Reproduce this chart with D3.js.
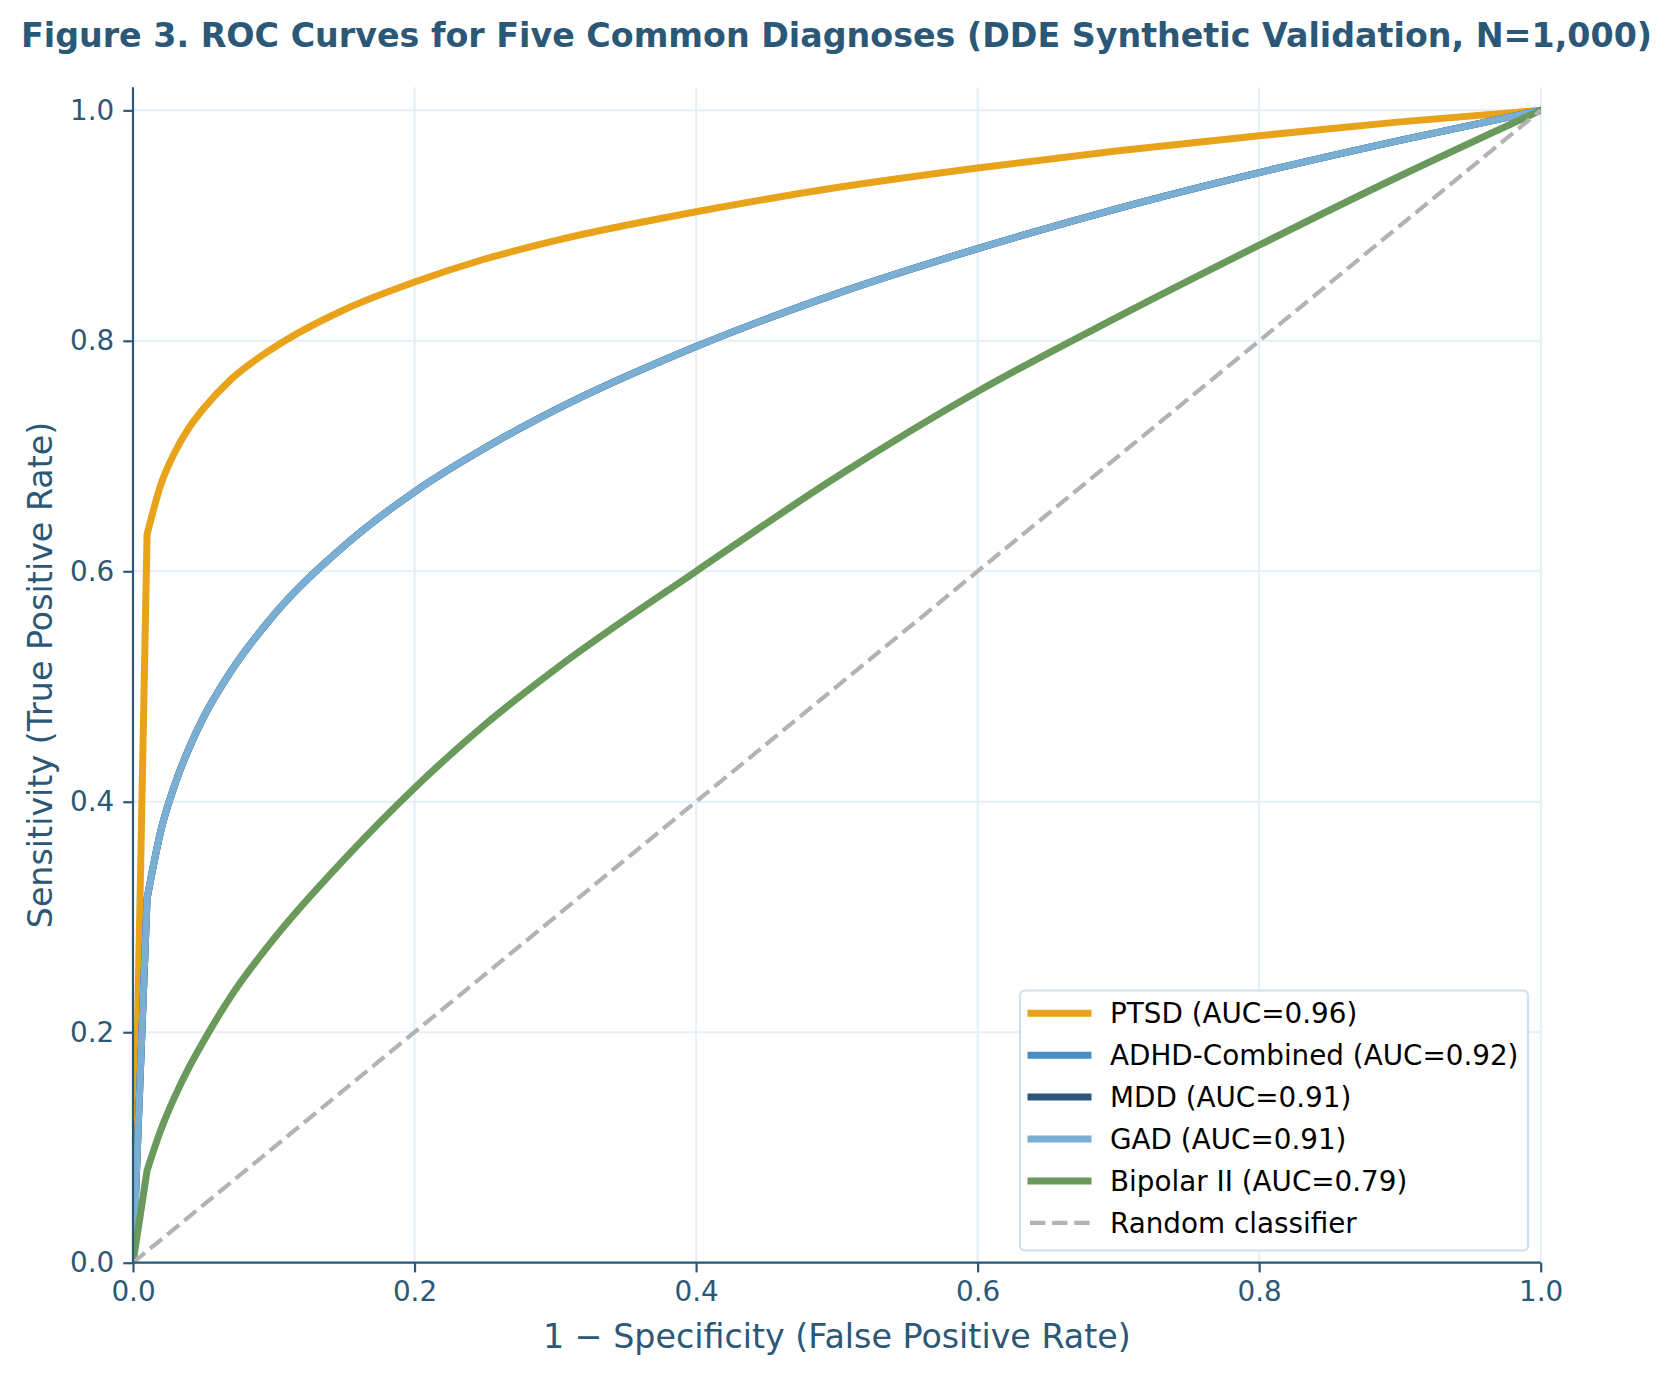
<!DOCTYPE html>
<html>
<head>
<meta charset="utf-8">
<script src="https://cdn.jsdelivr.net/npm/d3@7"></script>
<style>
  body { margin: 0; background: #fff; }
  svg { display: block; font-family: "DejaVu Sans", sans-serif; }
</style>
</head>
<body>
<div id="chart"></div>
<script>
// values
const fpr = [0, 0.01, 0.02, 0.03, 0.04, 0.05, 0.07, 0.1, 0.15, 0.2, 0.25, 0.3, 0.4, 0.5, 0.6, 0.7, 0.8, 0.9, 1.0];
const ptsd = [0, 0.632, 0.676, 0.704, 0.725, 0.741, 0.767, 0.794, 0.827, 0.851, 0.871, 0.887, 0.912, 0.933, 0.950, 0.965, 0.978, 0.990, 1.0];
const adhd = [0, 0.316, 0.376, 0.416, 0.447, 0.473, 0.514, 0.562, 0.622, 0.669, 0.707, 0.740, 0.795, 0.841, 0.880, 0.915, 0.946, 0.974, 1.0];
const mdd = [0, 0.316, 0.376, 0.416, 0.447, 0.473, 0.514, 0.562, 0.622, 0.669, 0.707, 0.740, 0.795, 0.841, 0.880, 0.915, 0.946, 0.974, 1.0];
const gad = [0, 0.316, 0.376, 0.416, 0.447, 0.473, 0.514, 0.562, 0.622, 0.669, 0.707, 0.740, 0.795, 0.841, 0.880, 0.915, 0.946, 0.974, 1.0];
const bipolar = [0, 0.080, 0.116, 0.145, 0.170, 0.192, 0.232, 0.281, 0.350, 0.412, 0.467, 0.515, 0.600, 0.682, 0.756, 0.821, 0.883, 0.943, 1.0];

const seriesNames = ["PTSD (AUC=0.96)", "ADHD-Combined (AUC=0.92)", "MDD (AUC=0.91)", "GAD (AUC=0.91)", "Bipolar II (AUC=0.79)"];
const seriesValues = [ptsd, adhd, mdd, gad, bipolar];
const seriesColors = ["#e8a31b", "#4a8ec2", "#2c5878", "#7aaed3", "#6a9a5b"];
const randomLabel = "Random classifier";
const ticks = [0, 0.2, 0.4, 0.6, 0.8, 1.0];

const W = 1673, H = 1375;
const ink = "#2c5878";
const plot = { left: 133, right: 1540.7, top: 87.3, bottom: 1262.7 };

const svg = d3.select("#chart").append("svg")
    .attr("width", W)
    .attr("height", H);

const x = d3.scaleLinear().domain([0, 1]).range([plot.left, plot.right]);
const y = d3.scaleLinear().domain([0, 1.02]).range([plot.bottom, plot.top]);

// title
svg.append("text")
    .attr("x", W / 2)
    .attr("y", 46.7)
    .attr("text-anchor", "middle")
    .attr("font-size", 33.3)
    .attr("font-weight", "bold")
    .attr("fill", ink)
    .text("Figure 3. ROC Curves for Five Common Diagnoses (DDE Synthetic Validation, N=1,000)");

// grid
const grid = svg.append("g").attr("stroke", "#e6eef6").attr("stroke-width", 2);
grid.selectAll(".gx").data(ticks).join("line")
    .attr("x1", d => x(d)).attr("x2", d => x(d))
    .attr("y1", plot.top).attr("y2", plot.bottom);
grid.selectAll(".gy").data(ticks).join("line")
    .attr("x1", plot.left).attr("x2", plot.right)
    .attr("y1", d => y(d)).attr("y2", d => y(d));

// clip to axes area
svg.append("clipPath").attr("id", "clip")
    .append("rect")
    .attr("x", plot.left).attr("y", plot.top)
    .attr("width", plot.right - plot.left)
    .attr("height", plot.bottom - plot.top);

const lines = svg.append("g").attr("clip-path", "url(#clip)");

const straight = d3.line().x(d => x(d[0])).y(d => y(d[1]));
const smooth = d3.line()
    .x(d => x(d[0]))
    .y(d => y(d[1]))
    .curve(d3.curveMonotoneX);

// first step from the origin is a hard corner, the rest is smooth
seriesValues.forEach((vals, i) => {
    const pts = fpr.map((f, j) => [f, vals[j]]);
    const d = straight(pts.slice(0, 2)) + smooth(pts.slice(1)).replace(/^M/, "L");
    lines.append("path")
        .attr("fill", "none")
        .attr("stroke", seriesColors[i])
        .attr("stroke-width", 7)
        .attr("stroke-linejoin", "round")
        .attr("stroke-linecap", "square")
        .attr("d", d);
});

// chance diagonal
lines.append("path")
    .datum([[0, 0], [1, 1]])
    .attr("fill", "none")
    .attr("stroke", "#b3b3b3")
    .attr("stroke-width", 4.2)
    .attr("stroke-dasharray", "15.4,6.7")
    .attr("d", straight);

// axes
const xAxis = d3.axisBottom(x).tickValues(ticks).tickFormat(d3.format(".1f")).tickSize(9.7).tickPadding(9);
const yAxis = d3.axisLeft(y).tickValues(ticks).tickFormat(d3.format(".1f")).tickSize(9.7).tickPadding(9);

const xg = svg.append("g")
    .attr("transform", `translate(0,${plot.bottom})`)
    .call(xAxis);
const yg = svg.append("g")
    .attr("transform", `translate(${plot.left},0)`)
    .call(yAxis);

[xg, yg].forEach(g => {
    g.select(".domain").attr("stroke", ink).attr("stroke-width", 2.2);
    g.selectAll(".tick line").attr("stroke", ink).attr("stroke-width", 2.2);
    g.selectAll(".tick text").attr("fill", ink).attr("font-size", 27.8)
        .attr("font-family", "DejaVu Sans, sans-serif");
});
// spine ends exactly at the axes limits
xg.select(".domain").attr("d", `M${plot.left},0H${plot.right}`);
yg.select(".domain").attr("d", `M0,${plot.top}V${plot.bottom}`);

// axis labels
svg.append("text")
    .attr("x", (plot.left + plot.right) / 2)
    .attr("y", 1348.3)
    .attr("text-anchor", "middle")
    .attr("font-size", 33.3)
    .attr("fill", ink)
    .text("1 \u2212 Specificity (False Positive Rate)");

svg.append("text")
    .attr("transform", `translate(51.5,${(plot.top + plot.bottom) / 2}) rotate(-90)`)
    .attr("text-anchor", "middle")
    .attr("font-size", 33.3)
    .attr("fill", ink)
    .text("Sensitivity (True Positive Rate)");

// legend
const lg = svg.append("g");
lg.append("rect")
    .attr("x", 1020).attr("y", 990.5)
    .attr("width", 508).attr("height", 260)
    .attr("rx", 5)
    .attr("fill", "#fff").attr("fill-opacity", 0.9)
    .attr("stroke", "#cfe0ee").attr("stroke-width", 2.2);

const legendItems = seriesNames.map((n, i) => ({ name: n, color: seriesColors[i], dash: null }))
    .concat([{ name: randomLabel, color: "#b3b3b3", dash: "15.4,6.7" }]);

legendItems.forEach((d, i) => {
    const cy = 1013.3 + i * 41.9;
    lg.append("line")
        .attr("x1", d.dash ? 1030 : 1031).attr("x2", d.dash ? 1092 : 1088)
        .attr("y1", cy).attr("y2", cy)
        .attr("stroke", d.color)
        .attr("stroke-width", d.dash ? 4.2 : 7)
        .attr("stroke-linecap", d.dash ? "butt" : "square")
        .attr("stroke-dasharray", d.dash);
    lg.append("text")
        .attr("x", 1110)
        .attr("y", cy + 10)
        .attr("font-size", 27.8)
        .attr("fill", "#000")
        .text(d.name);
});
</script>
</body>
</html>
